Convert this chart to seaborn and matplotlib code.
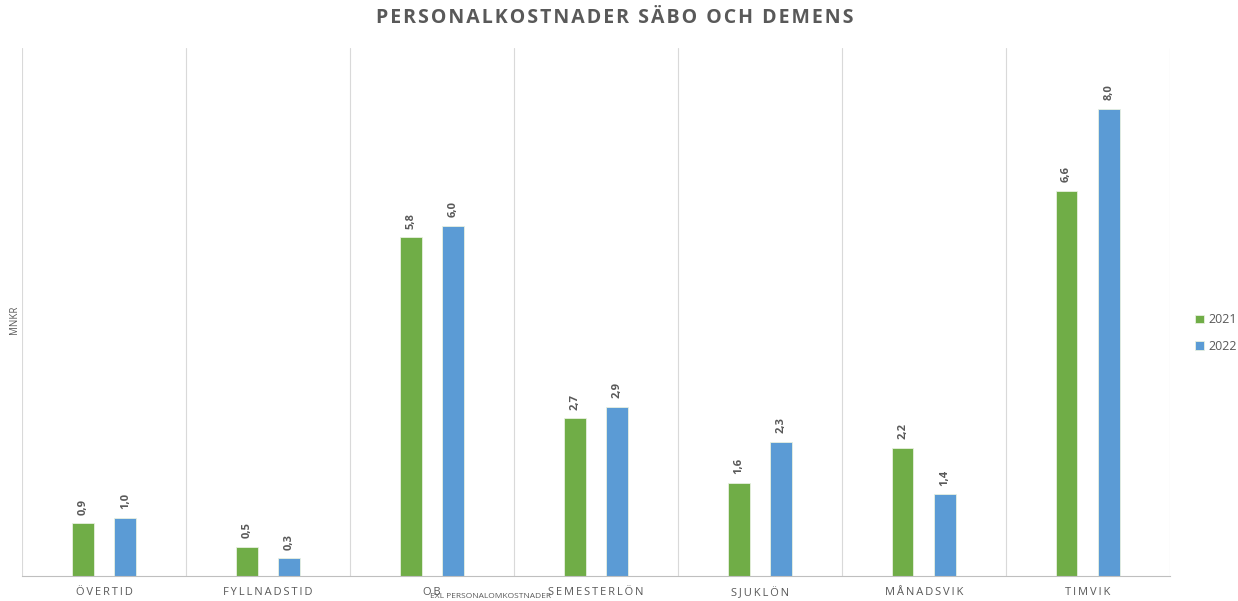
import pandas as pd
import numpy as np
import seaborn as sns
import matplotlib.pyplot as plt

# Data
categories = ['ÖVERTID', 'FYLLNADSTID', 'OB', 'SEMESTERLÖN', 'SJUKLÖN', 'MÅNADSVIK', 'TIMVIK']
values_2021 = [0.9, 0.5, 5.8, 2.7, 1.6, 2.2, 6.6]
values_2022 = [1.0, 0.3, 6.0, 2.9, 2.3, 1.4, 8.0]
years = ['2021', '2022']

df = pd.DataFrame({
    'kategori': categories * 2,
    'år': [years[0]] * len(categories) + [years[1]] * len(categories),
    'mnkr': values_2021 + values_2022,
})

sns.set_style('white')
plt.rcParams['font.family'] = ['Open Sans', 'DejaVu Sans']

gray = '#595959'
palette = {'2021': '#70AD47', '2022': '#5B9BD5'}

fig = plt.figure(figsize=(12.38, 6.01), dpi=100)
ax = fig.add_axes([0.0178, 0.0416, 0.9272, 0.8784])

sns.barplot(data=df, x='kategori', y='mnkr', hue='år', palette=palette,
            width=0.52, gap=0.49, edgecolor='#e8f0e0', linewidth=0.6,
            saturation=1, ax=ax)

# value labels, rotated like in the original
for cont in ax.containers:
    ax.bar_label(cont, labels=[f'{v:.1f}'.replace('.', ',') for v in cont.datavalues],
                 rotation=90, padding=6, fontsize=8, fontweight='bold', color=gray)

n = len(categories)
ax.set_xlim(-0.5, n - 0.5)
ax.set_ylim(0, 9.04)
ax.set_yticks([])
ax.set_xticks(range(n))
ax.set_xticklabels(['\u2009'.join(c) for c in categories], fontsize=8, color=gray)
ax.tick_params(axis='x', length=0, pad=8)

# vertical separators between categories
ax.set_xticks(np.arange(-0.5, n), minor=True)
ax.tick_params(axis='x', which='minor', length=0)
ax.grid(True, axis='x', which='minor', color='#d9d9d9', linewidth=0.8)
ax.grid(False, axis='x', which='major')
ax.set_axisbelow(True)

for s in ['top', 'right', 'left']:
    ax.spines[s].set_visible(False)
ax.spines['bottom'].set_color('#bfbfbf')

ax.set_xlabel('')
ax.set_ylabel('')
fig.text(491 / 1238, 1 - 597 / 601, 'EXL PERSONALOMKOSTNADER', ha='center', va='center',
         fontsize=6, color=gray)
fig.text(14 / 1238, 1 - 320 / 601, 'MNKR', rotation=90, ha='center', va='center',
         fontsize=7, color=gray)

fig.text(615 / 1238, 1 - 18 / 601, '\u200a'.join('PERSONALKOSTNADER SÄBO OCH DEMENS'),
         ha='center', va='center', fontsize=14, fontweight='bold', color=gray)

ax.legend(title=None, loc='center left', bbox_to_anchor=(1.012, 0.46), frameon=False,
          fontsize=9, handlelength=0.7, handleheight=0.7, labelcolor=gray,
          handletextpad=0.4, labelspacing=1.1)

fig.savefig('out.png', dpi=100)
